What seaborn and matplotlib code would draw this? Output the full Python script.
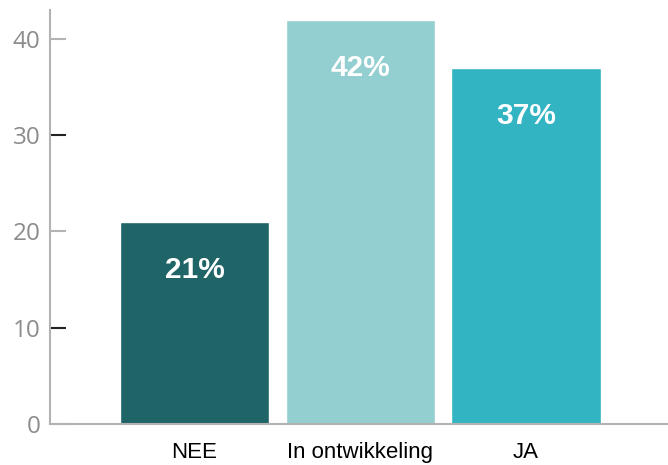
import seaborn as sns
import pandas as pd
import matplotlib.pyplot as plt

categories = ["NEE", "In ontwikkeling", "JA"]
values = [21, 42, 37]
colors = ["#1f6467", "#93cfd0", "#32b4c2"]
grey_ticks = [0, 20, 40]
black_ticks = [10, 30]

sns.set_theme(style="white")
plt.rcParams["font.family"] = ["Liberation Sans", "DejaVu Sans"]


def main():
    data = pd.DataFrame({"answer": categories, "pct": values})

    fig = plt.figure(figsize=(6.68, 4.65), dpi=100)
    ax = fig.add_axes([50 / 668, 41 / 465, 618 / 668, 414 / 465])

    sns.barplot(
        data=data,
        x="answer",
        y="pct",
        hue="answer",
        palette=colors,
        width=0.9,
        legend=False,
        saturation=1,
        ax=ax,
    )

    # percentage labels inside the bars
    for i, v in enumerate(values):
        ax.text(i, v - 5.0, f"{v}%", ha="center", va="center",
                color="white", fontsize=21.5, fontweight="bold",
                family=["Liberation Sans"])

    ax.set_xlim(-0.872, 2.857)
    ax.set_ylim(0, 43)
    # grey ticks as major, black ones as minor so they can be styled apart
    ax.set_yticks(grey_ticks, labels=[str(t) for t in grey_ticks])
    ax.set_yticks(black_ticks, labels=[str(t) for t in black_ticks], minor=True)
    ax.set_xlabel("")
    ax.set_ylabel("")

    for side in ["top", "right"]:
        ax.spines[side].set_visible(False)
    for side in ["left", "bottom"]:
        ax.spines[side].set_color("#b3b3b3")
        ax.spines[side].set_linewidth(1.5)

    ax.tick_params(axis="x", length=0, pad=13, labelsize=16, labelcolor="black")
    ax.tick_params(axis="y", which="both", direction="in", length=11.5, width=1.5,
                   pad=7, labelsize=17.5, labelcolor="#8c8c8c", left=True)
    ax.tick_params(axis="y", which="major", color="#b3b3b3")
    ax.tick_params(axis="y", which="minor", color="#222222")
    for lab in ax.get_yticklabels(which="both"):
        lab.set_family(["Open Sans", "DejaVu Sans"])

    fig.savefig("out.png", dpi=100)


if __name__ == "__main__":
    main()
